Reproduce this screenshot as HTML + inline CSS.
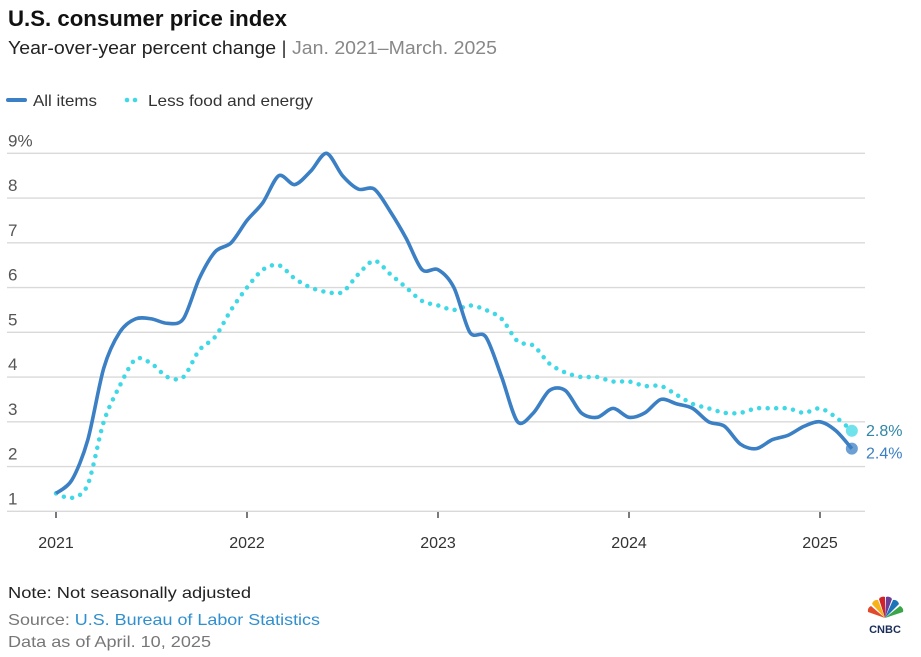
<!DOCTYPE html>
<html><head><meta charset="utf-8"><style>
body{margin:0;background:#fff;font-family:"Liberation Sans",sans-serif}
svg{display:block}
</style></head><body>
<svg width="921" height="657" viewBox="0 0 921 657" id="chart">
<text x="8" y="26" font-size="22" font-weight="bold" fill="#111" textLength="279" lengthAdjust="spacingAndGlyphs">U.S. consumer price index</text>
<text x="8" y="54" font-size="18" fill="#222" textLength="489" lengthAdjust="spacingAndGlyphs"><tspan fill="#222">Year-over-year percent change </tspan><tspan fill="#333">|</tspan><tspan fill="#888"> Jan. 2021–March. 2025</tspan></text>
<g>
<line x1="8" y1="100" x2="25" y2="100" stroke="#3b7fc4" stroke-width="4" stroke-linecap="round"/>
<text x="33" y="106" font-size="16" fill="#333" textLength="64" lengthAdjust="spacingAndGlyphs">All items</text>
<circle cx="127" cy="100" r="2.3" fill="#3fd8e6"/>
<circle cx="135" cy="100" r="2.3" fill="#3fd8e6"/>
<text x="148" y="106" font-size="16" fill="#333" textLength="165" lengthAdjust="spacingAndGlyphs">Less food and energy</text>
</g>
<g id="grid"></g><g id="series"></g>
<text x="8" y="598" font-size="16" fill="#222" textLength="243" lengthAdjust="spacingAndGlyphs">Note: Not seasonally adjusted</text>
<text x="8" y="625" font-size="16" fill="#777" textLength="312" lengthAdjust="spacingAndGlyphs">Source: <tspan fill="#2f8fcf">U.S. Bureau of Labor Statistics</tspan></text>
<text x="8" y="647" font-size="16" fill="#777" textLength="203" lengthAdjust="spacingAndGlyphs">Data as of April. 10, 2025</text>
<g>
<path d="M885 618 L872 604 A5 5 0 0 1 878 600 Z" fill="#f6b21a"/>
<path d="M885 618 L868 612 A5 5 0 0 1 871 606 Z" fill="#e24a2c"/>
<path d="M885 618 L879 599 A5 5 0 0 1 885 597 Z" fill="#d2232a"/>
<path d="M885 618 L886 597 A5 5 0 0 1 892 599 Z" fill="#6c3e97"/>
<path d="M885 618 L893 600 A5 5 0 0 1 899 604 Z" fill="#1e72b8"/>
<path d="M885 618 L900 606 A5 5 0 0 1 903 612 Z" fill="#3aa549"/>
<text x="885" y="633" font-size="11" font-weight="bold" fill="#1b2e5a" text-anchor="middle">CNBC</text>
</g>
</svg>
<script>
const yTicks=[1,2,3,4,5,6,7,8,9];
const xYears=[2021,2022,2023,2024,2025];
const allItems=[1.4,1.7,2.6,4.2,5.0,5.3,5.3,5.2,5.3,6.2,6.8,7.0,7.5,7.9,8.5,8.3,8.6,9.0,8.5,8.2,8.2,7.7,7.1,6.4,6.4,6.0,5.0,4.9,4.0,3.0,3.2,3.7,3.7,3.2,3.1,3.3,3.1,3.2,3.5,3.4,3.3,3.0,2.9,2.5,2.4,2.6,2.7,2.9,3.0,2.8,2.4];
const coreItems=[1.4,1.3,1.6,3.0,3.8,4.4,4.3,4.0,4.0,4.6,4.9,5.5,6.0,6.4,6.5,6.2,6.0,5.9,5.9,6.3,6.6,6.3,6.0,5.7,5.6,5.5,5.6,5.5,5.3,4.8,4.7,4.3,4.1,4.0,4.0,3.9,3.9,3.8,3.8,3.6,3.4,3.3,3.2,3.2,3.3,3.3,3.3,3.2,3.3,3.1,2.8];
const NS='http://www.w3.org/2000/svg';
const X=m=>56+m*191/12;
const Y=v=>511.3-(v-1)*44.75;
function mk(t,a,p){const e=document.createElementNS(NS,t);for(const k in a)e.setAttribute(k,a[k]);p.appendChild(e);return e;}
const g=document.getElementById('grid'),s=document.getElementById('series');
yTicks.forEach((v,i)=>{
 const l=mk('line',{x1:7,x2:865,y1:Y(v),y2:Y(v),stroke:'#d9d9d9','stroke-width':1.3},g);
 
 
 const t=mk('text',{x:8,y:Y(v)-7,'font-size':17,fill:'#555'},g);
 t.textContent=v+(i===yTicks.length-1?'%':'');
 
 
});
xYears.forEach((yr,i)=>{
 const x=X(i*12);
 const k=mk('line',{x1:x,x2:x,y1:512,y2:518,stroke:'#333','stroke-width':1.3},g);
 
 
 const t=mk('text',{x:x,y:548,'font-size':16,fill:'#333','text-anchor':'middle'},g);
 t.textContent=yr;
 
 
});
function path(vals){
 const p=vals.map((v,i)=>[X(i),Y(v)]);
 let d='M'+p[0][0]+','+p[0][1];
 for(let i=0;i<p.length-1;i++){
  const p0=p[Math.max(0,i-1)],p1=p[i],p2=p[i+1],p3=p[Math.min(p.length-1,i+2)];
  const t=0.15;
  d+=' C'+(p1[0]+(p2[0]-p0[0])*t)+','+(p1[1]+(p2[1]-p0[1])*t)+' '+(p2[0]-(p3[0]-p1[0])*t)+','+(p2[1]-(p3[1]-p1[1])*t)+' '+p2[0]+','+p2[1];
 }
 return d;
}
const cp=mk('path',{d:path(coreItems),fill:'none',stroke:'#3fd8e6','stroke-width':4.5,'stroke-linecap':'round','stroke-dasharray':'0 8.5'},s);


const ap=mk('path',{d:path(allItems),fill:'none',stroke:'#3b7fc4','stroke-width':3.6,'stroke-linejoin':'round'},s);


const li=allItems.length-1;
const c1=mk('circle',{cx:X(li),cy:Y(coreItems[li]),r:6,fill:'#3fd8e6','fill-opacity':0.75},s);


const c2=mk('circle',{cx:X(li),cy:Y(allItems[li]),r:6,fill:'#3b7fc4','fill-opacity':0.75},s);


const t1=mk('text',{x:866,y:Y(coreItems[li])+5,'font-size':16,fill:'#2f86a6'},s);
t1.textContent=coreItems[li].toFixed(1)+'%';


const t2=mk('text',{x:866,y:Y(allItems[li])+10,'font-size':16,fill:'#3b7fc4'},s);
t2.textContent=allItems[li].toFixed(1)+'%';


</script>
</body></html>
